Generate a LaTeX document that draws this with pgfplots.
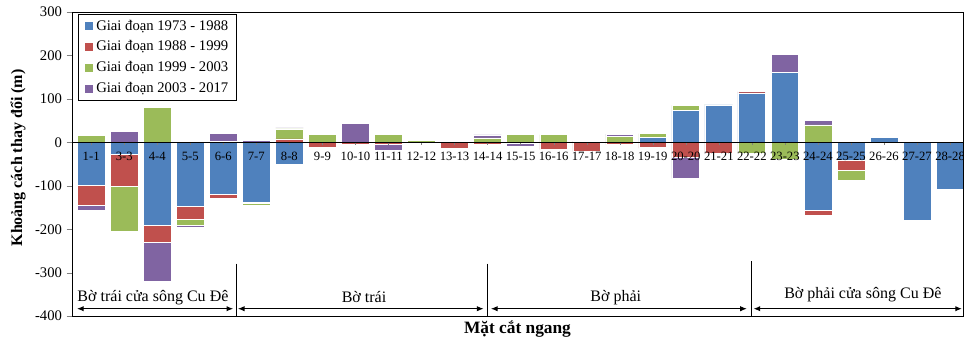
\documentclass[border=0pt]{standalone}
\usepackage{fontspec}
\setmainfont{Liberation Serif}
\usepackage{pgfplots}
\usepackage{pgfplotstable}
\pgfplotsset{compat=1.18}
\usetikzlibrary{arrows.meta}

\definecolor{cb}{HTML}{4F81BD}
\definecolor{cr}{HTML}{C0504D}
\definecolor{cg}{HTML}{9BBB59}
\definecolor{cp}{HTML}{8064A2}

% positive parts (bp rp gp pp) and negative parts (bn rn gn pn)
\pgfplotstableread{
x  bp  rp gp pp  bn   rn   gn   pn
0  0   0  16 0   -98  -48  0    -10
1  0   0  0  26  -27  -74  -104 0
2  0   0  80 0   -190 -41  0    -89
3  0   0  0  0   -148 -30  -12  -5
4  0   0  3  17  -120 -8   0    0
5  0   0  0  5   -137 -4   -3   0
6  0   8  23 2   -50  0    0    0
7  0   0  18 3   0    -12  0    0
8  0   0  0  44  0    -4   0    0
9  0   0  18 0   0    -5   0    -14
10 0   0  4  0   0    0    0    0
11 0   0  0  3   0    -13  0    0
12 0   0  10 7   0    -4   0    0
13 0   0  18 0   0    -3   0    -6
14 0   0  18 0   0    -15  0    -2
15 0   0  0  3   0    -21  0    0
16 0   0  14 5   0    -5   0    0
17 11  0  9  0   0    -12  0    -2
18 73  0  12 0   0    -34  0    -49
19 86  0  2  0   0    -25  0    -2
20 114 3  0  0   0    0    -25  0
21 161 0  0  42  0    0    -40  0
22 0   0  40 10  -157 -12  0    0
23 0   0  0  3   -42  -23  -23  0
24 12  0  0  0   0    0    0    0
25 0   0  0  0   -180 0    0    0
26 0   0  0  0   -109 0    0    0
}\data

\pgfplotsset{common/.style={
  width=668pt, height=228pt, scale only axis,
  xmin=-0.58, xmax=26.39, ymin=-400, ymax=300,
  ybar stacked, bar width=0.84, enlargelimits=false,
  every axis plot/.append style={draw=white, line width=0.4pt}
}}

\begin{document}
\begin{tikzpicture}
\begin{axis}[common,
  clip=false,
  xtick=\empty,
  ytick={-400,-300,...,300},
  ytick pos=left, tick align=outside, major tick length=4pt,
  yticklabel style={font=\fontsize{11}{13}\selectfont},
  /pgf/number format/assume math mode=true,
  axis line style={line width=0.6pt},
  ylabel={\textbf{Khoảng cách thay đổi (m)}},
  ylabel style={at={(axis description cs:-0.0606,0.52)}, anchor=center, font=\fontsize{12}{14}\selectfont},
  xlabel={\textbf{Mặt cắt ngang}},
  xlabel style={at={(axis description cs:0.5,0)}, anchor=center, yshift=-10pt, font=\fontsize{13}{15}\selectfont},
  legend style={at={(axis description cs:0.0067,0.993)}, anchor=north west,
    draw=black, line width=0.6pt, font=\fontsize{11}{13}\selectfont,
    row sep=2.5pt, inner xsep=4pt, inner ysep=2pt, cells={anchor=west}},
  legend image code/.code={\draw[#1] (0pt,-3.5pt) rectangle (7pt,3.5pt);},
]
\addplot[fill=cb] table[x=x,y=bp]{\data};
\addplot[fill=cr] table[x=x,y=rp]{\data};
\addplot[fill=cg] table[x=x,y=gp]{\data};
\addplot[fill=cp] table[x=x,y=pp]{\data};
\legend{Giai đoạn 1973 - 1988, Giai đoạn 1988 - 1999, Giai đoạn 1999 - 2003, Giai đoạn 2003 - 2017}
\draw[black, line width=0.5pt] (axis cs:4.38,-279) -- (axis cs:4.38,-400);
\draw[black, line width=0.5pt] (axis cs:12,-279) -- (axis cs:12,-400);
\draw[black, line width=0.5pt] (axis cs:19.97,-274) -- (axis cs:19.97,-400);
\draw[{Latex[length=5pt,width=4pt]}-{Latex[length=5pt,width=4pt]}, line width=0.8pt] (axis cs:-0.43,-383) -- (axis cs:4.30,-383);
\draw[{Latex[length=5pt,width=4pt]}-{Latex[length=5pt,width=4pt]}, line width=0.8pt] (axis cs:4.44,-383) -- (axis cs:11.88,-383);
\draw[{Latex[length=5pt,width=4pt]}-{Latex[length=5pt,width=4pt]}, line width=0.8pt] (axis cs:12.10,-383) -- (axis cs:19.85,-383);
\draw[{Latex[length=5pt,width=4pt]}-{Latex[length=5pt,width=4pt]}, line width=0.8pt] (axis cs:20.05,-383) -- (axis cs:26.36,-383);
\node[font=\fontsize{12}{14}\selectfont] at (axis cs:1.87,-357) {Bờ trái cửa sông Cu Đê};
\node[font=\fontsize{12}{14}\selectfont] at (axis cs:8.26,-357) {Bờ trái};
\node[font=\fontsize{12}{14}\selectfont] at (axis cs:15.88,-357) {Bờ phải};
\node[font=\fontsize{12}{14}\selectfont] at (axis cs:23.36,-350) {Bờ phải cửa sông Cu Đê};
\end{axis}
\begin{axis}[common,
  axis x line*=middle, axis y line=none, axis on top,
  xtick={0,...,26},
  xticklabels={1-1,3-3,4-4,5-5,6-6,7-7,8-8,9-9,10-10,11-11,12-12,13-13,14-14,15-15,16-16,17-17,18-18,19-19,20-20,21-21,22-22,23-23,24-24,25-25,26-26,27-27,28-28},
  xticklabel style={font=\fontsize{9.5}{11}\selectfont, yshift=-2pt},
  tick align=outside, major tick length=2pt,
  ytick=\empty,
  axis line style={line width=0.6pt},
]
\addplot[fill=cb] table[x=x,y=bn]{\data};
\addplot[fill=cr] table[x=x,y=rn]{\data};
\addplot[fill=cg] table[x=x,y=gn]{\data};
\addplot[fill=cp] table[x=x,y=pn]{\data};
\end{axis}
\pgfresetboundingbox
\path[use as bounding box] (-54pt,-21pt) rectangle (668.8pt,237pt);
\end{tikzpicture}
\end{document}
